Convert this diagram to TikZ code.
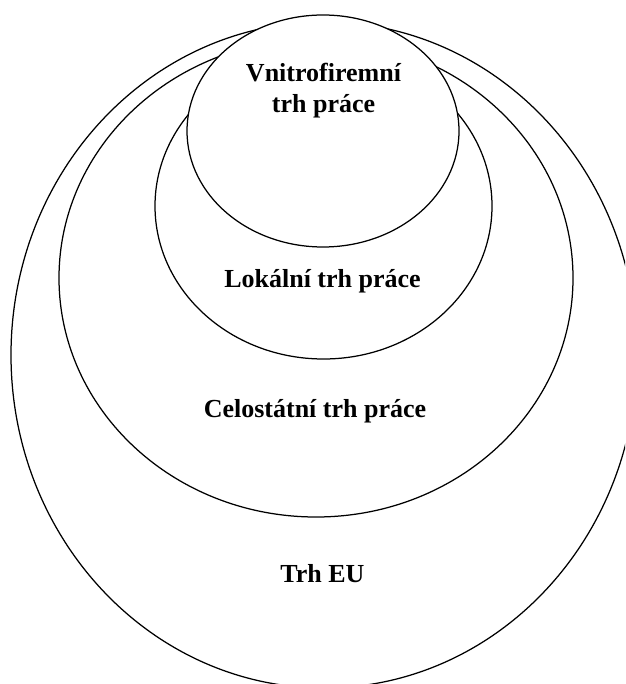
\documentclass[tikz,border=0pt]{standalone}
\usepackage{fontspec}
\setmainfont{Liberation Serif}
\usetikzlibrary{shapes.geometric}
\begin{document}
\begin{tikzpicture}[x=1pt,y=-1pt,
  ring/.style={ellipse, draw=black, fill=white, line width=1.25pt, inner sep=0pt},
  lbl/.style={font=\fontsize{26}{31}\selectfont\bfseries, anchor=base, inner sep=0pt}]
\useasboundingbox (0,0) rectangle (625,684);
\clip (0,0) rectangle (625,684);
\node[ring, minimum width=626pt, minimum height=666pt] (eu) at (324,355) {};
\node[ring, minimum width=514pt, minimum height=478pt] (cz) at (316,278) {};
\node[ring, minimum width=337pt, minimum height=306pt] (loc) at (323.5,206) {};
\node[ring, minimum width=272pt, minimum height=232pt] (firm) at (323,131) {};
\node[lbl] (firmA) at (323.5,82) {Vnitrofiremní};
\node[lbl] (firmB) at (323.5,113) {trh práce};
\node[lbl] (locT) at (322.5,287) {Lokální trh práce};
\node[lbl] (czT) at (315,417) {Celostátní trh práce};
\node[lbl] (euT) at (322.5,582) {Trh EU};
\end{tikzpicture}
\end{document}
